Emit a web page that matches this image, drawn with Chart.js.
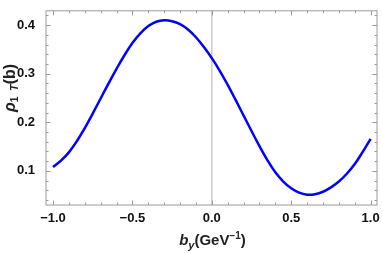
<!DOCTYPE html>
<html>
<head>
<meta charset="utf-8">
<script src="https://cdn.jsdelivr.net/npm/chart.js@4"></script>
<style>
  html, body { margin: 0; padding: 0; background: #fff; }
  #wrap { width: 382px; height: 253px; }
</style>
</head>
<body>
<div id="wrap"><canvas id="grafico"></canvas></div>
<script>
// valores
const by = [-1.0, -0.95, -0.9, -0.85, -0.8, -0.75, -0.7, -0.65, -0.6, -0.55, -0.5,
            -0.45, -0.4, -0.35, -0.3, -0.25, -0.2, -0.15, -0.1, -0.05, 0.0,
            0.05, 0.1, 0.15, 0.2, 0.25, 0.3, 0.35, 0.4, 0.45, 0.5,
            0.55, 0.6, 0.65, 0.7, 0.75, 0.8, 0.85, 0.9, 0.95, 1.0];
const rho = [0.108, 0.121, 0.138, 0.161, 0.188, 0.218, 0.249, 0.280, 0.310, 0.338, 0.363,
             0.383, 0.398, 0.407, 0.410, 0.408, 0.402, 0.391, 0.375, 0.355, 0.332,
             0.306, 0.277, 0.246, 0.214, 0.182, 0.151, 0.122, 0.097, 0.078, 0.064,
             0.055, 0.051, 0.052, 0.057, 0.066, 0.078, 0.094, 0.114, 0.139, 0.166];
const xTicks = [-1.0, -0.5, 0.0, 0.5, 1.0];
const yTicks = [0.1, 0.2, 0.3, 0.4];
const xMinor = [-1.0, -0.9, -0.8, -0.7, -0.6, -0.5, -0.4, -0.3, -0.2, -0.1, 0.0,
                0.1, 0.2, 0.3, 0.4, 0.5, 0.6, 0.7, 0.8, 0.9, 1.0];
const yMinor = [0.04, 0.06, 0.08, 0.10, 0.12, 0.14, 0.16, 0.18, 0.20, 0.22, 0.24, 0.26,
                0.28, 0.30, 0.32, 0.34, 0.36, 0.38, 0.40, 0.42];

const fuente = 'Liberation Sans, Arial, sans-serif';

const marco = {
    id: 'marco',
    beforeDatasetsDraw(chart) {
        const { ctx, chartArea: a, scales } = chart;
        const x0 = scales.x.getPixelForValue(0);
        ctx.save();
        ctx.strokeStyle = '#cfcfcf';
        ctx.lineWidth = 1.6;
        ctx.beginPath();
        ctx.moveTo(x0, a.top);
        ctx.lineTo(x0, a.bottom);
        ctx.stroke();
        ctx.restore();
    },
    afterDraw(chart) {
        const { ctx, chartArea: a, scales } = chart;
        ctx.save();
        ctx.strokeStyle = '#9a9a9a';
        ctx.lineWidth = 1;
        ctx.strokeRect(a.left, a.top, a.right - a.left, a.bottom - a.top);

        ctx.beginPath();
        xMinor.forEach(v => {
            const px = Math.round(scales.x.getPixelForValue(v)) + 0.5;
            const mayor = xTicks.some(t => Math.abs(t - v) < 1e-6);
            const len = mayor ? 4.5 : 2.5;
            ctx.moveTo(px, a.bottom); ctx.lineTo(px, a.bottom - len);
            ctx.moveTo(px, a.top); ctx.lineTo(px, a.top + len);
        });
        yMinor.forEach(v => {
            const py = Math.round(scales.y.getPixelForValue(v)) + 0.5;
            const mayor = yTicks.some(t => Math.abs(t - v) < 1e-6);
            const len = mayor ? 4.5 : 2.5;
            ctx.moveTo(a.left, py); ctx.lineTo(a.left + len, py);
            ctx.moveTo(a.right, py); ctx.lineTo(a.right - len, py);
        });
        ctx.stroke();

        // titulo eje x: b_y(GeV^-1)
        ctx.fillStyle = '#222';
        ctx.textBaseline = 'alphabetic';
        const partesX = [
            { t: 'b', f: 'italic bold 15px ' + fuente, dy: 0 },
            { t: 'y', f: 'italic bold 11px ' + fuente, dy: 4 },
            { t: '(GeV', f: 'bold 15px ' + fuente, dy: 0 },
            { t: '\u22121', f: 'bold 10px ' + fuente, dy: -6 },
            { t: ')', f: 'bold 15px ' + fuente, dy: 0 }
        ];
        let ancho = 0;
        partesX.forEach(p => { ctx.font = p.f; ancho += ctx.measureText(p.t).width; });
        let cx = (a.left + a.right) / 2 - ancho / 2 + 1;
        const base = 245;
        partesX.forEach(p => {
            ctx.font = p.f;
            ctx.fillText(p.t, cx, base + p.dy);
            cx += ctx.measureText(p.t).width;
        });

        // titulo eje y: rho_1T(b)
        const partesY = [
            { t: '\u03C1', f: 'italic bold 16px ' + fuente, dy: 0 },
            { t: '1\u2009 ', f: 'bold 11px ' + fuente, dy: 3 },
            { t: 'T', f: 'italic bold 11px ' + fuente, dy: 3 },
            { t: '(b)', f: 'bold 16px ' + fuente, dy: 0 }
        ];
        ancho = 0;
        partesY.forEach(p => { ctx.font = p.f; ancho += ctx.measureText(p.t).width; });
        ctx.translate(15, 88);
        ctx.rotate(-Math.PI / 2);
        cx = -ancho / 2;
        partesY.forEach(p => {
            ctx.font = p.f;
            ctx.fillText(p.t, cx, p.dy);
            cx += ctx.measureText(p.t).width;
        });
        ctx.restore();
    }
};

const ctx = document.getElementById('grafico');

new Chart(ctx, {
    type: 'line',
    data: {
        datasets: [{
            data: by.map((x, i) => ({ x: x, y: rho[i] })),
            borderColor: '#0000ff',
            borderWidth: 2.5,
            pointRadius: 0,
            fill: false,
            tension: 0.4
        }]
    },
    options: {
        responsive: true,
        maintainAspectRatio: false,
        animation: false,
        layout: { padding: { top: 1, right: 5, left: 0, bottom: 0 } },
        plugins: {
            legend: { display: false },
            tooltip: { enabled: false }
        },
        scales: {
            x: {
                type: 'linear',
                min: -1.044,
                max: 1.04,
                afterBuildTicks: s => { s.ticks = xTicks.map(v => ({ value: v })); },
                afterFit: s => { s.height = 48; },
                grid: { display: false },
                border: { display: false },
                ticks: {
                    color: '#111',
                    padding: -2,
                    font: { family: fuente, size: 13, weight: 'bold' },
                    callback: v => (v < 0 ? '\u2212' : '') + Math.abs(v).toFixed(1)
                }
            },
            y: {
                type: 'linear',
                min: 0.0297,
                max: 0.4295,
                afterBuildTicks: s => { s.ticks = yTicks.map(v => ({ value: v })); },
                afterFit: s => { s.width = 46; },
                grid: { display: false },
                border: { display: false },
                ticks: {
                    color: '#111',
                    padding: 3,
                    font: { family: fuente, size: 13, weight: 'bold' },
                    callback: v => v.toFixed(1)
                }
            }
        }
    },
    plugins: [marco]
});
</script>
</body>
</html>
